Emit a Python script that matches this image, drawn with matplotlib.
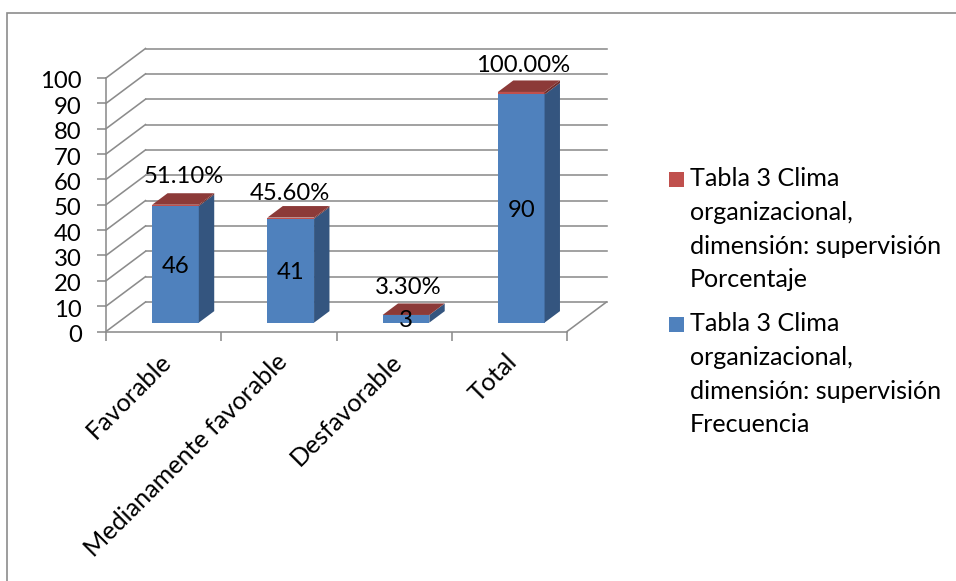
import matplotlib
matplotlib.use('Agg')
import matplotlib.pyplot as plt
from matplotlib.patches import Rectangle
from matplotlib.transforms import ScaledTranslation

plt.rcParams['font.family'] = ['Lato', 'DejaVu Sans']

categorias = ['Favorable', 'Medianamente favorable', 'Desfavorable', 'Total']
frecuencia = [46, 41, 3, 90]
porcentaje = [0.511, 0.456, 0.033, 1.0]
etiquetas_pct = ['51.10%', '45.60%', '3.30%', '100.00%']
ticks_y = [0, 10, 20, 30, 40, 50, 60, 70, 80, 90, 100]
leyenda = ['Tabla 3 Clima\norganizacional,\ndimensión: supervisión\nPorcentaje',
           'Tabla 3 Clima\norganizacional,\ndimensión: supervisión\nFrecuencia']

W, H = 956, 581
GRIS = '#8c8c8c'
AZUL, AZUL_LADO = '#4f81bd', '#34557f'
ROJO, ROJO_LADO, ROJO_ARRIBA = '#c0504d', '#6e2e2c', '#8c3a38'
FS = 17.2
FS_TXT = 18.05

# offset of the back wall, in data units
DX = 39.5 / 115.25
DY = 29.5 / 2.535
# bars sit between these fractions of the floor depth
F0, F1 = 0.30, 0.69
ANCHO = 0.405

# label offsets in pixels from the top of each bar
off_pct = [(8, 28), (-1, 24), (2, 27), (2, 26)]

fig = plt.figure(figsize=(W / 100, H / 100), dpi=100)
ax = fig.add_axes([106 / W, (H - 331.5) / H, 461 / W, 253.5 / H])
ax.set_xlim(0, 4)
ax.set_ylim(0, 100)
ax.patch.set_visible(False)


def desplazar(dx_px, dy_px):
    return ScaledTranslation(dx_px / 100, dy_px / 100, fig.dpi_scale_trans)


def caja(x0, x1, y0, y1, z, frente, lado, arriba=None):
    ddx, ddy = DX * (F1 - F0), DY * (F1 - F0)
    sx, sy = DX * F0, DY * F0
    x0, x1 = x0 + sx, x1 + sx
    y0, y1 = y0 + sy, y1 + sy
    ax.fill([x0, x1, x1, x0], [y0, y0, y1, y1], color=frente, lw=0, zorder=z, clip_on=False)
    ax.fill([x1, x1 + ddx, x1 + ddx, x1], [y0, y0 + ddy, y1 + ddy, y1], color=lado, lw=0,
            zorder=z, clip_on=False)
    if arriba:
        ax.fill([x0, x1, x1 + ddx, x0 + ddx], [y1, y1, y1 + ddy, y1 + ddy], color=arriba, lw=0,
                zorder=z + 0.1, clip_on=False)


# walls and floor
for v in ticks_y:
    ax.plot([DX, 4 + DX], [v + DY, v + DY], color=GRIS, lw=1.15, zorder=1, clip_on=False)
    ax.plot([0, DX], [v, v + DY], color=GRIS, lw=1.15, zorder=1, clip_on=False)
ax.plot([4, 4 + DX], [0, DY], color=GRIS, lw=1.15, zorder=1, clip_on=False)

for i in range(len(categorias)):
    x0 = i + 0.5 - ANCHO / 2
    x1 = i + 0.5 + ANCHO / 2
    f = frecuencia[i]
    p = porcentaje[i]
    caja(x0, x1, 0, f, 3, AZUL, AZUL_LADO)
    caja(x0, x1, f, f + p, 4, ROJO, ROJO_LADO, ROJO_ARRIBA)
    cx = i + 0.5 + DX * F0
    ax.annotate(str(f), (cx, f / 2 + DY * F0), xytext=(0, -1.5), textcoords='offset points',
                ha='center', va='center', fontsize=FS, color='black', zorder=6, annotation_clip=False)
    ax.annotate(etiquetas_pct[i], (cx, f + p + DY * F0), xytext=(off_pct[i][0] * 0.72, off_pct[i][1] * 0.72),
                textcoords='offset points', ha='center', va='center', fontsize=FS, color='black',
                zorder=6, annotation_clip=False)

for s in ['top', 'right']:
    ax.spines[s].set_visible(False)
for s in ['left', 'bottom']:
    ax.spines[s].set_color(GRIS)
    ax.spines[s].set_linewidth(1.15)

ax.set_yticks(ticks_y)
ax.set_yticklabels([str(v) for v in ticks_y], fontsize=FS)
ax.tick_params(axis='y', length=6.5, width=1.15, color=GRIS, pad=11)
for lab in ax.get_yticklabels():
    lab.set_transform(lab.get_transform() + desplazar(0, -2))
ax.set_xticks(range(5))
ax.set_xticklabels([])
ax.tick_params(axis='x', which='major', length=6.5, width=1.15, color=GRIS)
ax.set_xticks([i + 0.5 for i in range(4)], minor=True)
ax.set_xticklabels(categorias, minor=True, rotation=45, ha='right', rotation_mode='anchor', fontsize=FS_TXT)
ax.tick_params(axis='x', which='minor', length=0, pad=13)
for lab in ax.get_xticklabels(minor=True):
    lab.set_transform(lab.get_transform() + desplazar(-4, 0))

# outer chart frame
fig.add_artist(Rectangle((6.5 / W, -0.02), 1.0, (H - 13) / H + 0.02, transform=fig.transFigure,
                         fill=False, edgecolor='#8c8c8c', lw=1.2))

# legend
for texto, color, y_sw in zip(leyenda, [ROJO, AZUL], [179.5, 324.5]):
    fig.add_artist(Rectangle((669 / W, 1 - (y_sw + 7.5) / H), 15 / W, 15 / H, transform=fig.transFigure,
                             facecolor=color, edgecolor='none'))
    fig.text(690 / W, 1 - (y_sw - 12.5) / H, texto, ha='left', va='top', fontsize=FS_TXT, color='black',
             linespacing=1.57)

fig.savefig('out.png', dpi=100)
